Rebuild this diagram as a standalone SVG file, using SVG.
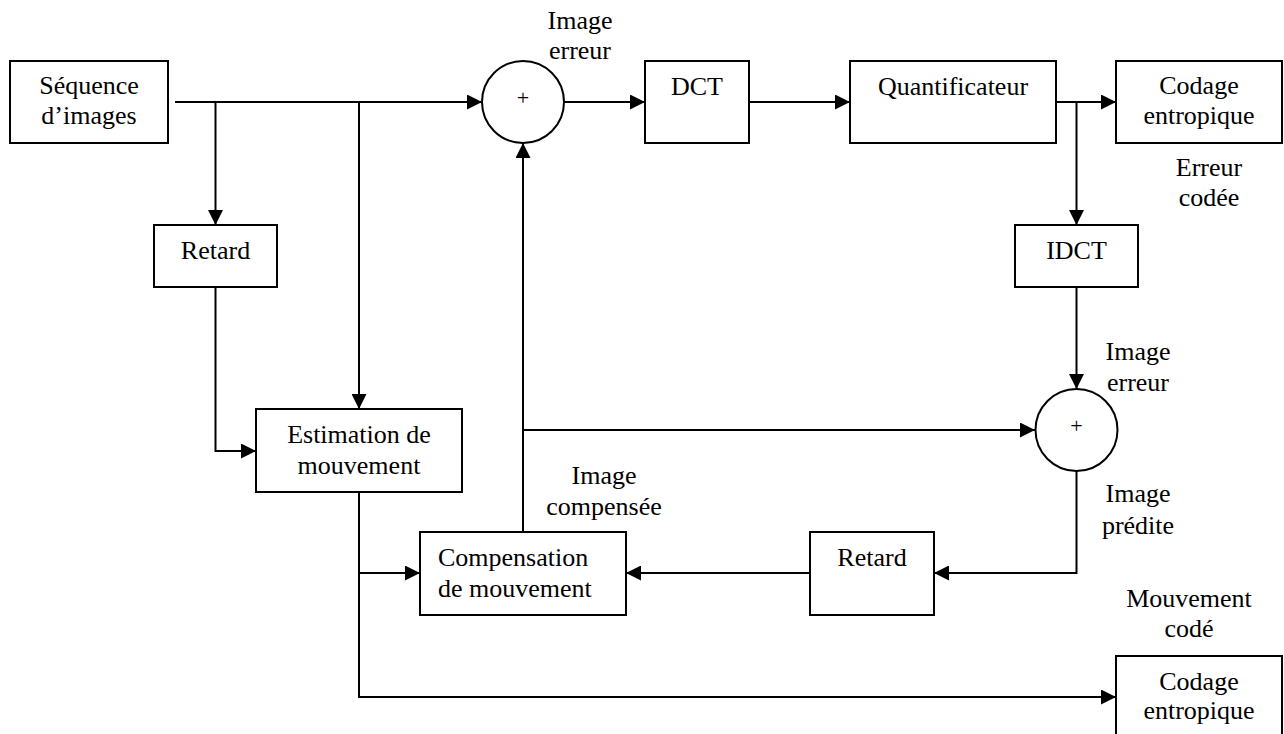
<svg xmlns="http://www.w3.org/2000/svg" width="1284" height="734" viewBox="0 0 1284 734" font-family="'Liberation Serif', 'Times New Roman', serif">
  <style>
    .box { fill: #fff; stroke: #000; stroke-width: 2; }
    .sum { fill: #fff; stroke: #000; stroke-width: 2; }
    .wire { fill: none; stroke: #000; stroke-width: 2; }
    .arrow { marker-end: url(#head); }
    text { font-family: 'Liberation Serif', 'Times New Roman', serif; font-size: 26px; fill: #000; }
    .c { text-anchor: middle; }
    .plus { font-size: 22px; text-anchor: middle; }
  </style>
  <defs>
    <marker id="head" markerUnits="userSpaceOnUse" markerWidth="15" markerHeight="15" refX="15" refY="7.5" orient="auto">
      <path d="M0,0 L15,7.5 L0,15 z" fill="#000"/>
    </marker>
  </defs>
  <rect width="1284" height="734" fill="#fff"/>

  <!-- connectors -->
  <g id="connectors">
    <path class="wire arrow" d="M175,102 H482"/>
    <path class="wire arrow" d="M215.5,102 V225"/>
    <path class="wire arrow" d="M359,102 V409"/>
    <path class="wire arrow" d="M215.5,287 V451 H256"/>
    <path class="wire arrow" d="M564,102 H645"/>
    <path class="wire arrow" d="M749,102 H850"/>
    <path class="wire arrow" d="M1056,102 H1116"/>
    <path class="wire arrow" d="M1076.5,102 V225"/>
    <path class="wire arrow" d="M1076.5,287 V389"/>
    <path class="wire arrow" d="M1076.5,471 V573 H934"/>
    <path class="wire arrow" d="M810,573 H626"/>
    <path class="wire arrow" d="M523,532 V143"/>
    <path class="wire arrow" d="M523,430 H1035"/>
    <path class="wire arrow" d="M359,492 V697 H1116"/>
    <path class="wire arrow" d="M359,573 H420"/>
  </g>

  <!-- blocks -->
  <g id="sequence">
    <rect class="box" x="10" y="61" width="158" height="82"/>
    <text class="c" x="89" y="94">Séquence</text>
    <text class="c" x="89" y="124">d’images</text>
  </g>
  <g id="sum-error">
    <circle class="sum" cx="523" cy="102" r="41"/>
    <text class="plus" x="523" y="105">+</text>
  </g>
  <g id="dct">
    <rect class="box" x="645" y="61" width="104" height="82"/>
    <text class="c" x="697" y="95">DCT</text>
  </g>
  <g id="quantizer">
    <rect class="box" x="850" y="61" width="206" height="82"/>
    <text class="c" x="953" y="95">Quantificateur</text>
  </g>
  <g id="entropy-error">
    <rect class="box" x="1116" y="61" width="166" height="82"/>
    <text class="c" x="1199" y="94">Codage</text>
    <text class="c" x="1199" y="124">entropique</text>
  </g>
  <g id="delay-input">
    <rect class="box" x="154" y="225" width="123" height="62"/>
    <text class="c" x="215.5" y="259">Retard</text>
  </g>
  <g id="idct">
    <rect class="box" x="1015" y="225" width="123" height="62"/>
    <text class="c" x="1076.5" y="259">IDCT</text>
  </g>
  <g id="sum-predict">
    <circle class="sum" cx="1076.5" cy="430" r="41"/>
    <text class="plus" x="1076.5" y="433">+</text>
  </g>
  <g id="motion-estimation">
    <rect class="box" x="256" y="409" width="206" height="83"/>
    <text class="c" x="359" y="443">Estimation de</text>
    <text class="c" x="359" y="474">mouvement</text>
  </g>
  <g id="motion-compensation">
    <rect class="box" x="420" y="532" width="206" height="83"/>
    <text x="438" y="566">Compensation</text>
    <text x="438" y="597">de mouvement</text>
  </g>
  <g id="delay-loop">
    <rect class="box" x="810" y="532" width="124" height="83"/>
    <text class="c" x="872" y="566">Retard</text>
  </g>
  <g id="entropy-motion">
    <rect class="box" x="1116" y="656" width="166" height="90"/>
    <text class="c" x="1199" y="690">Codage</text>
    <text class="c" x="1199" y="719">entropique</text>
  </g>

  <!-- signal labels -->
  <g id="labels">
    <text class="c" x="580" y="29">Image</text>
    <text class="c" x="580" y="59">erreur</text>
    <text class="c" x="1209" y="176">Erreur</text>
    <text class="c" x="1209" y="206">codée</text>
    <text class="c" x="1138" y="360">Image</text>
    <text class="c" x="1138" y="391">erreur</text>
    <text class="c" x="604" y="484">Image</text>
    <text class="c" x="604" y="515">compensée</text>
    <text class="c" x="1138" y="502">Image</text>
    <text class="c" x="1138" y="534">prédite</text>
    <text class="c" x="1189" y="607">Mouvement</text>
    <text class="c" x="1189" y="637">codé</text>
  </g>
</svg>
